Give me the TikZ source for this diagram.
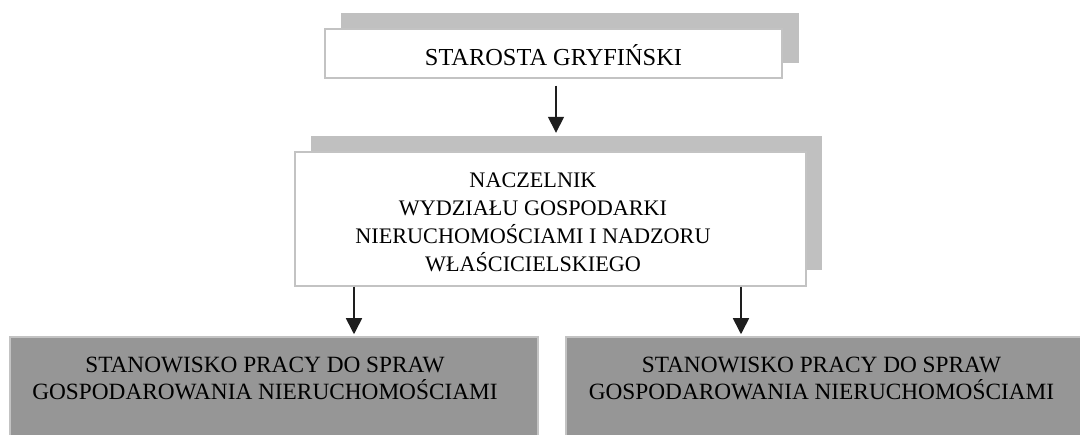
\documentclass[tikz,border=0pt]{standalone}
\usepackage{fontspec}
\setmainfont{Liberation Serif}
\usetikzlibrary{arrows.meta}
\definecolor{shade}{RGB}{192,192,192}
\definecolor{edge}{RGB}{195,195,195}
\definecolor{dark}{RGB}{150,150,150}
\definecolor{arrowc}{RGB}{30,30,30}
\tikzset{
  whitebox/.style={draw=edge, line width=1.5pt, fill=white, inner sep=0pt},
  shadowbox/.style={fill=shade, inner sep=0pt},
  graybox/.style={draw=edge, line width=1.5pt, fill=dark, inner sep=0pt,
    minimum width=528pt, minimum height=108pt},
  label/.style={align=center, inner sep=0pt},
  arr/.style={draw=arrowc, line width=1.6pt, -{Triangle[width=16pt,length=16pt]}}
}
\begin{document}
\begin{tikzpicture}[x=1pt,y=-1pt]
\useasboundingbox (0,0) rectangle (1080,435);
% top box
\node[shadowbox, minimum width=458pt, minimum height=50pt] (topsh) at (570,38) {};
\node[whitebox, minimum width=457pt, minimum height=49pt] (top) at (553.5,53.5) {};
\node[label, font=\fontsize{24.4}{28}\selectfont] (toptxt) at (553.5,55.5) {STAROSTA GRYFIŃSKI};
% middle box
\node[shadowbox, minimum width=511pt, minimum height=134pt] (midsh) at (566.5,203) {};
\node[whitebox, minimum width=511pt, minimum height=134pt] (mid) at (550.5,219) {};
\node[label, font=\fontsize{22.2}{28}\selectfont] (midtxt) at (533,222)
  {NACZELNIK\\WYDZIAŁU GOSPODARKI\\NIERUCHOMOŚCIAMI I NADZORU\\WŁAŚCICIELSKIEGO};
% bottom boxes
\node[graybox] (left) at (274,391) {};
\node[label, font=\fontsize{23.3}{27}\selectfont] (lefttxt) at (265,378)
  {STANOWISKO PRACY DO SPRAW\\GOSPODAROWANIA NIERUCHOMOŚCIAMI};
\node[graybox] (right) at (830,391) {};
\node[label, font=\fontsize{23.3}{27}\selectfont] (righttxt) at (821.5,378)
  {STANOWISKO PRACY DO SPRAW\\GOSPODAROWANIA NIERUCHOMOŚCIAMI};
% arrows
\draw[arr, shorten <=7pt, shorten >=3pt] (top.south -| 556,0) -- (midsh.north -| 556,0);
\draw[arr, shorten >=2pt] (mid.south -| 354,0) -- (left.north -| 354,0);
\draw[arr, shorten >=2pt] (mid.south -| 741,0) -- (right.north -| 741,0);
\end{tikzpicture}
\end{document}
